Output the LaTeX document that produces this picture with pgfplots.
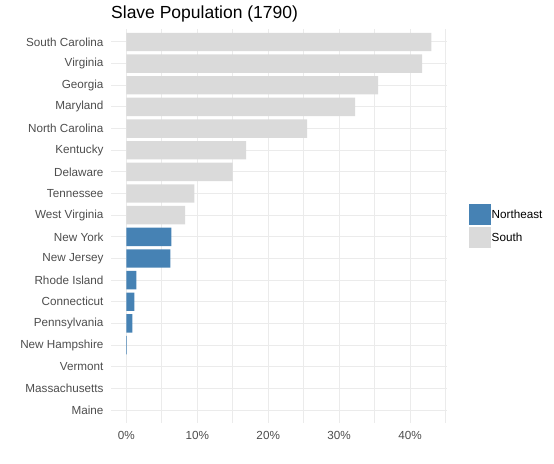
\documentclass[border=0pt]{standalone}
\usepackage{pgfplots}
\pgfplotsset{compat=1.18}
\usepackage{fontspec}
\setmainfont{Liberation Sans}
\definecolor{ne}{HTML}{4682B4}
\definecolor{so}{HTML}{DADADA}
\definecolor{gridc}{HTML}{EBEBEB}
\definecolor{labc}{HTML}{4D4D4D}
\pgfplotstableread{
y val
0 0
1 0
2 0
3 0.1
4 0.85
5 1.13
6 1.41
7 6.2
8 6.34
}\northeast
\pgfplotstableread{
y val
9 8.3
10 9.58
11 15.0
12 16.9
13 25.5
14 32.25
15 35.5
16 41.7
17 43.0
}\south
\begin{document}
\begin{tikzpicture}
\useasboundingbox (0,0) rectangle (554bp,464bp);
\begin{axis}[
  at={(111bp,41bp)}, anchor=south west,
  scale only axis, width=335.7bp, height=394bp,
  xmin=-2.15, xmax=45.15, ymin=-0.6, ymax=17.6,
  axis line style={draw=none},
  xtick={0,10,20,30,40},
  xticklabels={0\%,10\%,20\%,30\%,40\%},
  minor xtick={5,15,25,35,45},
  ytick={0,...,17},
  yticklabels={Maine,Massachusetts,Vermont,New Hampshire,Pennsylvania,Connecticut,Rhode Island,New Jersey,New York,West Virginia,Tennessee,Delaware,Kentucky,North Carolina,Maryland,Georgia,Virginia,South Carolina},
  major tick length=0pt, minor tick length=0pt,
  tick style={draw=none},
  xmajorgrids, ymajorgrids, xminorgrids,
  major grid style={draw=gridc, line width=1bp},
  minor grid style={draw=gridc, line width=0.6bp},
  yticklabel style={font=\fontsize{11.7bp}{14bp}\selectfont, text=labc, inner sep=0pt, anchor=east, xshift=-7.3bp},
  xticklabel style={font=\fontsize{11.7bp}{14bp}\selectfont, text=labc, inner sep=0pt, anchor=north, yshift=-8.5bp},
  title={Slave Population (1790)},
  title style={at={(0,1)}, anchor=base west, yshift=4.7bp, inner sep=0pt, font=\fontsize{17.5bp}{20bp}\selectfont},
  legend style={at={(1.0664,0.5558)}, anchor=north west, draw=none, fill=none, inner sep=0pt,
    font=\fontsize{11.7bp}{14bp}\selectfont, row sep=2.3bp,
    nodes={inner sep=0.5bp, anchor=west}},
  legend cell align=left,
]
\addplot[xbar, bar width=0.85, bar shift=0pt, fill=ne, draw=none,
  restrict x to domain=0.001:100,
  legend image code/.code={\fill[ne] (0bp,-10.35bp) rectangle (22bp,10.35bp);}]
  table[x=val, y=y] {\northeast};
\addlegendentry{Northeast}
\addplot[xbar, bar width=0.85, bar shift=0pt, fill=so, draw=none,
  legend image code/.code={\fill[so] (0bp,-10.35bp) rectangle (22bp,10.35bp);}]
  table[x=val, y=y] {\south};
\addlegendentry{South}
\end{axis}
\end{tikzpicture}
\end{document}
